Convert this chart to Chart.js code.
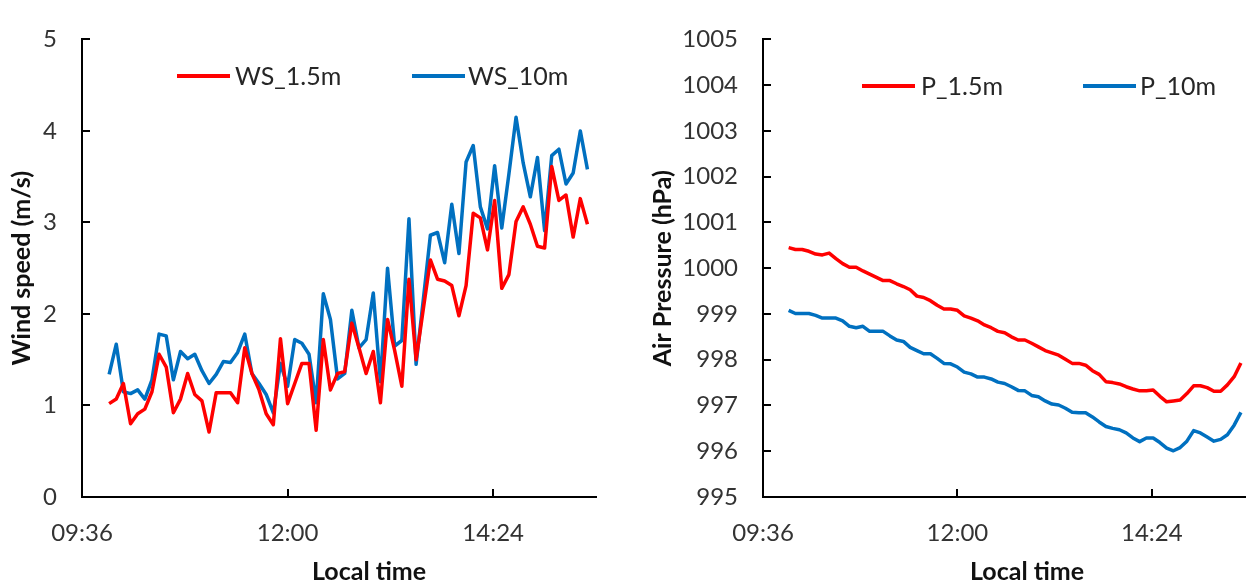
<!DOCTYPE html>
<html>
<head>
<meta charset="utf-8">
<title>Wind speed and air pressure</title>
<script src="https://cdn.jsdelivr.net/npm/chart.js@4.4.1/dist/chart.umd.min.js"></script>
<style>
  html, body { margin: 0; padding: 0; background: #fff; overflow: hidden; width: 1246px; height: 583px; }
  canvas { position: absolute; top: 0; }
  #ws-chart { left: 0; }
  #pr-chart { left: 620px; }
</style>
</head>
<body>
<canvas id="ws-chart" width="620" height="583"></canvas>
<canvas id="pr-chart" width="640" height="583"></canvas>
<script>
// 5-minute samples, local time
const times = [
  '09:55',
  '10:00', '10:05', '10:10', '10:15', '10:20', '10:25', '10:30', '10:35', '10:40', '10:45', '10:50', '10:55',
  '11:00', '11:05', '11:10', '11:15', '11:20', '11:25', '11:30', '11:35', '11:40', '11:45', '11:50', '11:55',
  '12:00', '12:05', '12:10', '12:15', '12:20', '12:25', '12:30', '12:35', '12:40', '12:45', '12:50', '12:55',
  '13:00', '13:05', '13:10', '13:15', '13:20', '13:25', '13:30', '13:35', '13:40', '13:45', '13:50', '13:55',
  '14:00', '14:05', '14:10', '14:15', '14:20', '14:25', '14:30', '14:35', '14:40', '14:45', '14:50', '14:55',
  '15:00', '15:05', '15:10', '15:15', '15:20', '15:25', '15:30',
];

// wind speed (m/s)
const ws15 = [
  1.02, 1.07, 1.24, 0.80, 0.91, 0.96, 1.15, 1.56, 1.42, 0.92, 1.07, 1.35, 1.12,
  1.05, 0.71, 1.14, 1.14, 1.14, 1.03, 1.63, 1.35, 1.17, 0.91, 0.79, 1.73,
  1.02, 1.24, 1.46, 1.46, 0.73, 1.72, 1.17, 1.35, 1.37, 1.90, 1.63, 1.35,
  1.59, 1.03, 1.94, 1.60, 1.21, 2.38, 1.50, 2.05, 2.59, 2.38, 2.36, 2.31,
  1.98, 2.31, 3.10, 3.05, 2.70, 3.24, 2.28, 2.43, 3.01, 3.17, 2.98, 2.74,
  2.72, 3.61, 3.24, 3.30, 2.84, 3.26, 2.98,
];
const ws10 = [
  1.34, 1.67, 1.15, 1.13, 1.17, 1.07, 1.28, 1.78, 1.76, 1.28, 1.59, 1.51, 1.56,
  1.38, 1.24, 1.34, 1.48, 1.47, 1.58, 1.78, 1.35, 1.24, 1.12, 0.92, 1.46,
  1.21, 1.72, 1.68, 1.56, 1.03, 2.22, 1.94, 1.29, 1.35, 2.04, 1.63, 1.72,
  2.23, 1.26, 2.50, 1.65, 1.71, 3.04, 1.45, 2.15, 2.86, 2.89, 2.56, 3.20,
  2.66, 3.66, 3.84, 3.17, 2.93, 3.62, 2.94, 3.53, 4.15, 3.65, 3.28, 3.71,
  2.91, 3.73, 3.80, 3.42, 3.54, 4.00, 3.58,
];

// air pressure (hPa)
const p15 = [
  1000.45, 1000.41, 1000.41, 1000.37, 1000.31, 1000.29, 1000.33, 1000.21, 1000.10, 1000.02, 1000.02, 999.94, 999.87,
  999.80, 999.73, 999.73, 999.66, 999.60, 999.53, 999.39, 999.36, 999.29, 999.19, 999.11, 999.11,
  999.08, 998.96, 998.91, 998.85, 998.76, 998.70, 998.62, 998.59, 998.50, 998.43, 998.43, 998.36,
  998.28, 998.20, 998.15, 998.10, 998.01, 997.92, 997.92, 997.88, 997.76, 997.68, 997.52, 997.50,
  997.47, 997.41, 997.36, 997.32, 997.32, 997.34, 997.20, 997.08, 997.10, 997.12, 997.26, 997.43,
  997.43, 997.39, 997.31, 997.31, 997.45, 997.63, 997.93,
];
const p10 = [
  999.08, 999.01, 999.01, 999.01, 998.97, 998.91, 998.91, 998.91, 998.85, 998.73, 998.70, 998.73, 998.62,
  998.62, 998.62, 998.52, 998.43, 998.40, 998.27, 998.20, 998.13, 998.13, 998.03, 997.92, 997.91,
  997.84, 997.73, 997.69, 997.62, 997.62, 997.58, 997.51, 997.48, 997.41, 997.33, 997.32, 997.22,
  997.19, 997.10, 997.03, 997.01, 996.94, 996.85, 996.84, 996.84, 996.75, 996.64, 996.54, 996.50,
  996.47, 996.40, 996.29, 996.21, 996.29, 996.29, 996.19, 996.07, 996.01, 996.08, 996.22, 996.45,
  996.40, 996.31, 996.22, 996.26, 996.36, 996.57, 996.85,
];

// x axis: 09:36 .. 15:36, labelled every 2h24
const xTicks = ['09:36', '12:00', '14:24'];
const xMax = '15:36';

const RED = '#ff0000';
const BLUE = '#0070c0';

Chart.defaults.font.family = 'Lato';

function toMinutes(t) {
  const [h, m] = t.split(':').map(Number);
  return h * 60 + m;
}

function fmtTime(v) {
  const h = Math.floor(v / 60), m = Math.round(v % 60);
  return String(h).padStart(2, '0') + ':' + String(m).padStart(2, '0');
}

// inward tick marks, axis titles and the in-plot legend
const excelFrame = {
  id: 'excelFrame',
  afterDraw(chart, args, opts) {
    const { ctx, chartArea: area, scales: { x, y } } = chart;
    ctx.save();

    ctx.strokeStyle = '#000';
    ctx.lineWidth = 2;
    ctx.beginPath();
    y.ticks.forEach(t => {
      const py = Math.round(y.getPixelForValue(t.value));
      if (py >= area.bottom - 1) return;
      ctx.moveTo(area.left, py);
      ctx.lineTo(area.left + opts.tickLen, py);
    });
    x.ticks.forEach(t => {
      const px = Math.round(x.getPixelForValue(t.value));
      if (px <= area.left + 1) return;
      ctx.moveTo(px, area.bottom);
      ctx.lineTo(px, area.bottom - opts.tickLen);
    });
    ctx.stroke();

    ctx.fillStyle = '#111';
    ctx.font = 'bold 25px Lato';
    ctx.textAlign = 'center';
    ctx.textBaseline = 'middle';
    ctx.fillText(opts.xTitle, opts.xTitleX, opts.xTitleY);
    ctx.save();
    ctx.translate(opts.yTitleX, (area.top + area.bottom) / 2);
    ctx.rotate(-Math.PI / 2);
    ctx.fillText(opts.yTitle, 0, 0);
    ctx.restore();

    ctx.font = '25px Lato';
    ctx.textAlign = 'left';
    ctx.lineWidth = 4;
    chart.data.datasets.forEach((ds, i) => {
      const item = opts.legend.items[i];
      ctx.strokeStyle = ds.borderColor;
      ctx.beginPath();
      ctx.moveTo(item.lineX, opts.legend.y);
      ctx.lineTo(item.lineX + opts.legend.lineLen, opts.legend.y);
      ctx.stroke();
      ctx.fillStyle = '#262626';
      ctx.fillText(ds.label, item.textX, opts.legend.y + 1);
    });

    ctx.restore();
  }
};

function makeChart(id, cfg) {
  const tickFont = { family: 'Lato', size: 24 };
  return new Chart(document.getElementById(id), {
    type: 'line',
    data: {
      datasets: cfg.series.map(s => ({
        label: s.label,
        data: times.map((t, i) => ({ x: toMinutes(t), y: s.values[i] })),
        borderColor: s.color,
        borderWidth: 3.5,
        borderJoinStyle: 'round',
        pointRadius: 0,
        tension: 0,
        fill: false,
      })),
    },
    options: {
      responsive: false,
      animation: false,
      devicePixelRatio: 1,
      layout: { padding: { top: 23, right: cfg.padRight, left: 0, bottom: 0 } },
      plugins: {
        legend: { display: false },
        tooltip: { enabled: false },
        excelFrame: {
          tickLen: 8,
          xTitle: 'Local time',
          xTitleX: cfg.xTitleX,
          xTitleY: 572,
          yTitle: cfg.yTitle,
          yTitleX: cfg.yTitleX,
          legend: cfg.legend,
        },
      },
      scales: {
        x: {
          type: 'linear',
          min: toMinutes(xTicks[0]),
          max: toMinutes(xMax),
          afterBuildTicks: s => { s.ticks = xTicks.map(t => ({ value: toMinutes(t) })); },
          afterFit: s => { s.height = 86; },
          grid: { drawOnChartArea: false, drawTicks: false },
          border: { color: '#000', width: 2 },
          ticks: {
            padding: 22,
            color: '#333',
            font: tickFont,
            maxRotation: 0,
            autoSkip: false,
            callback: v => fmtTime(v),
          },
        },
        y: {
          min: cfg.yMin,
          max: cfg.yMax,
          afterFit: s => { s.width = cfg.yWidth; },
          grid: { drawOnChartArea: false, drawTicks: false },
          border: { color: '#000', width: 2 },
          ticks: { stepSize: 1, padding: 25, color: '#333', font: tickFont, callback: v => String(v) },
        },
      },
    },
    plugins: [excelFrame],
  });
}

makeChart('ws-chart', {
  series: [
    { label: 'WS_1.5m', values: ws15, color: RED },
    { label: 'WS_10m', values: ws10, color: BLUE },
  ],
  yMin: 0, yMax: 5,
  yWidth: 82, padRight: 24,
  yTitle: 'Wind speed (m/s)', yTitleX: 22,
  xTitleX: 369,
  legend: { y: 76, lineLen: 53, items: [{ lineX: 177, textX: 235 }, { lineX: 412, textX: 468 }] },
});

makeChart('pr-chart', {
  series: [
    { label: 'P_1.5m', values: p15, color: RED },
    { label: 'P_10m', values: p10, color: BLUE },
  ],
  yMin: 995, yMax: 1005,
  yWidth: 143, padRight: 11,
  yTitle: 'Air Pressure (hPa)', yTitleX: 43,
  xTitleX: 407,
  legend: { y: 86, lineLen: 53, items: [{ lineX: 242, textX: 301 }, { lineX: 463, textX: 520 }] },
});
</script>
</body>
</html>
